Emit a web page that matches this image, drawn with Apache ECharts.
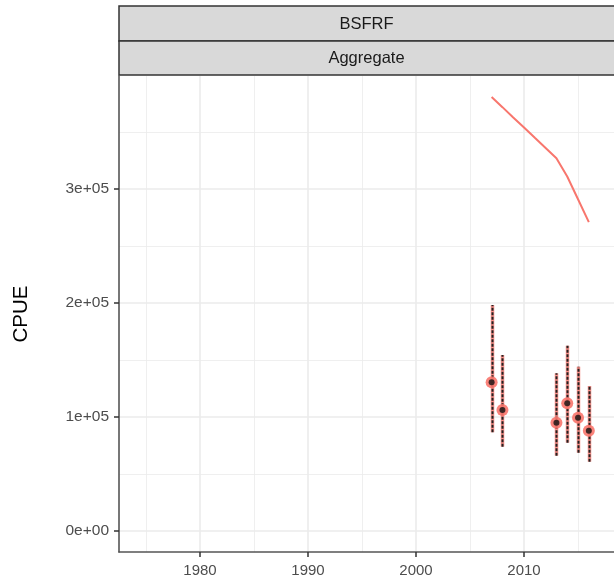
<!DOCTYPE html>
<html>
<head>
<meta charset="utf-8">
<script src="https://cdn.jsdelivr.net/npm/echarts@6/dist/echarts.min.js"></script>
<style>
html,body{margin:0;padding:0;background:#fff;}
#c{width:614px;height:582px;}
</style>
</head>
<body>
<div id="c"></div>
<script>
// ---- data ----
const fitYears = [2007, 2008, 2009, 2010, 2011, 2012, 2013, 2014, 2015, 2016];
const fitValues = [380700, 371800, 362800, 353900, 344900, 336000, 327000, 311000, 291000, 271000];
const obsYears = [2007, 2008, 2013, 2014, 2015, 2016];
const obsValues = [130400, 106100, 95000, 112000, 99400, 88000];
const obsLower = [86600, 74000, 66100, 77500, 68700, 60800];
const obsUpper = [198200, 154400, 138300, 162500, 144100, 127200];
const xMajorTicks = [1980, 1990, 2000, 2010];
const xMinorTicks = [1975, 1985, 1995, 2005, 2015];
const yMajorTicks = [0, 100000, 200000, 300000];
const yMajorLabels = ['0e+00', '1e+05', '2e+05', '3e+05'];
const yMinorTicks = [50000, 150000, 250000, 350000];
const stripTop = 'BSFRF';
const stripBottom = 'Aggregate';
const yTitle = 'CPUE';

// ---- styling ----
const FONT = 'Liberation Sans, Arial, sans-serif';
const SALMON = '#F8766D';
const GRID_L = 119, GRID_T = 76, GRID_B = 552, W = 614;

const chart = echarts.init(document.getElementById('c'), null, {renderer: 'canvas'});

const gridLines = [];
xMinorTicks.forEach(v => gridLines.push({xAxis: v, lineStyle: {width: 0.8}}));
yMinorTicks.forEach(v => gridLines.push({yAxis: v, lineStyle: {width: 0.8}}));
xMajorTicks.forEach(v => gridLines.push({xAxis: v, lineStyle: {width: 1.6}}));
yMajorTicks.forEach(v => gridLines.push({yAxis: v, lineStyle: {width: 1.6}}));

const option = {
  animation: false,
  backgroundColor: '#fff',
  textStyle: {fontFamily: FONT},
  grid: {left: GRID_L, top: GRID_T, right: 0, bottom: 582 - GRID_B, containLabel: false},
  xAxis: {
    type: 'value', min: 1972.5, max: 2018.33,
    axisLine: {show: true, onZero: false, lineStyle: {color: '#555', width: 1.6}},
    axisTick: {show: true, customValues: xMajorTicks, length: 5, lineStyle: {color: '#333', width: 1.5}},
    axisLabel: {customValues: xMajorTicks, color: '#4D4D4D', fontSize: 15, margin: 11, fontFamily: FONT,
                formatter: v => String(v)},
    splitLine: {show: false}
  },
  yAxis: {
    type: 'value', min: -18421, max: 399123,
    name: yTitle, nameLocation: 'middle', nameGap: 87, nameRotate: 90,
    nameTextStyle: {color: '#000', fontSize: 20.5, fontFamily: FONT},
    axisLine: {show: true, onZero: false, lineStyle: {color: '#555', width: 1.6}},
    axisTick: {show: true, customValues: yMajorTicks, length: 5, lineStyle: {color: '#333', width: 1.5}},
    axisLabel: {customValues: yMajorTicks, color: '#4D4D4D', fontSize: 15.5, margin: 10, fontFamily: FONT,
                formatter: v => yMajorLabels[yMajorTicks.indexOf(v)]},
    splitLine: {show: false}
  },
  graphic: [
    {type: 'rect', shape: {x: GRID_L, y: 6, width: W - GRID_L + 5, height: 35},
     style: {fill: '#D9D9D9', stroke: '#333', lineWidth: 1.5}, z: 100},
    {type: 'text', x: (GRID_L + W) / 2, y: 24, z: 101,
     style: {text: stripTop, fill: '#1A1A1A', font: '16.5px ' + FONT, textAlign: 'center', textVerticalAlign: 'middle'}},
    {type: 'rect', shape: {x: GRID_L, y: 41, width: W - GRID_L + 5, height: 34},
     style: {fill: '#D9D9D9', stroke: '#333', lineWidth: 1.5}, z: 100},
    {type: 'text', x: (GRID_L + W) / 2, y: 58, z: 101,
     style: {text: stripBottom, fill: '#1A1A1A', font: '16.5px ' + FONT, textAlign: 'center', textVerticalAlign: 'middle'}}
  ],
  series: [
    {
      type: 'scatter', data: [], z: 0, silent: true,
      markLine: {silent: true, z: 0, symbol: 'none', label: {show: false},
                 lineStyle: {color: '#EBEBEB', type: 'solid'}, emphasis: {disabled: true},
                 data: gridLines}
    },
    {
      type: 'line', data: fitYears.map((y, i) => [y, fitValues[i]]),
      showSymbol: false, symbol: 'none', lineStyle: {color: SALMON, width: 2}, z: 20, silent: true
    },
    {
      type: 'custom', z: 21, silent: true,
      data: obsYears.map((y, i) => [y, obsLower[i], obsUpper[i]]),
      renderItem: function (params, api) {
        const lo = api.coord([api.value(0), api.value(1)]);
        const hi = api.coord([api.value(0), api.value(2)]);
        const x = Math.round(lo[0]) + 0.5;
        return {type: 'group', children: [
          {type: 'line', shape: {x1: x, y1: lo[1], x2: x, y2: hi[1]},
           style: {stroke: SALMON, lineWidth: 3.5, opacity: 0.8}},
          {type: 'line', shape: {x1: x, y1: lo[1], x2: x, y2: hi[1]},
           style: {stroke: '#222', lineWidth: 2, lineDash: [3, 1.5]}}
        ]};
      }
    },
    {
      type: 'scatter', z: 22, silent: true, symbol: 'circle', symbolSize: 12,
      itemStyle: {color: SALMON, opacity: 0.9},
      data: obsYears.map((y, i) => [y, obsValues[i]])
    },
    {
      type: 'scatter', z: 23, silent: true, symbol: 'circle', symbolSize: 6,
      itemStyle: {color: '#111'},
      data: obsYears.map((y, i) => [y, obsValues[i]])
    }
  ]
};
chart.setOption(option);
</script>
</body>
</html>
